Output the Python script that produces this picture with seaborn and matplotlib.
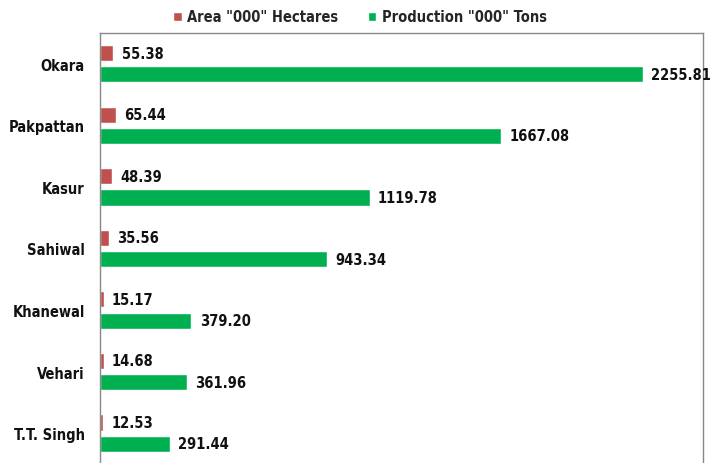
import pandas as pd
import matplotlib.pyplot as plt
import seaborn as sns
from matplotlib.patches import Patch

# dados do grafico
distritos = ["Okara", "Pakpattan", "Kasur", "Sahiwal", "Khanewal", "Vehari", "T.T. Singh"]
area = [55.38, 65.44, 48.39, 35.56, 15.17, 14.68, 12.53]
producao = [2255.81, 1667.08, 1119.78, 943.34, 379.20, 361.96, 291.44]
series = ['Area "000" Hectares', 'Production "000" Tons']
cores = ["#C0504D", "#00B050"]

df = pd.DataFrame({
    "Distrito": distritos * 2,
    "Valor": area + producao,
    "Serie": [series[0]] * len(distritos) + [series[1]] * len(distritos),
})

sns.set_style("white")
plt.rcParams["font.family"] = ["DejaVu Sans"]
plt.rcParams["font.stretch"] = "condensed"

fig = plt.figure(figsize=(7.2, 4.64), dpi=100)
ax = fig.add_axes([100 / 720, -0.002, 603 / 720, 1 - 34 / 464 + 0.002])

sns.barplot(data=df, y="Distrito", x="Valor", hue="Serie", hue_order=series,
            palette=cores, saturation=1, orient="h", width=0.69, gap=0.24, ax=ax, legend=False)

for cont in ax.containers:
    ax.bar_label(cont, fmt="%.2f", padding=6, fontsize=10.5, fontweight="bold", color="#111111")

ax.set_xlim(0, 2505)
ax.set_ylim(6.5, -0.5)
ax.set_xlabel("")
ax.set_ylabel("")
ax.set_xticks([])
ax.tick_params(axis="y", length=0, pad=11)
for lbl in ax.get_yticklabels():
    lbl.set_fontweight("bold")
    lbl.set_fontsize(10.5)
    lbl.set_color("#111111")

for lado in ["left", "top", "right"]:
    ax.spines[lado].set_color("#888888")
    ax.spines[lado].set_linewidth(1)
ax.spines["bottom"].set_visible(False)

handles = [Patch(facecolor=c, label=s) for c, s in zip(cores, series)]
fig.legend(handles=handles, loc="center", bbox_to_anchor=(0.5, 1 - 18 / 464), ncol=2,
           frameon=False, handlelength=0.6, handleheight=0.6, handletextpad=0.4,
           columnspacing=2.0, prop={"weight": "bold", "size": 10.5})

fig.savefig("out.png", dpi=100)
